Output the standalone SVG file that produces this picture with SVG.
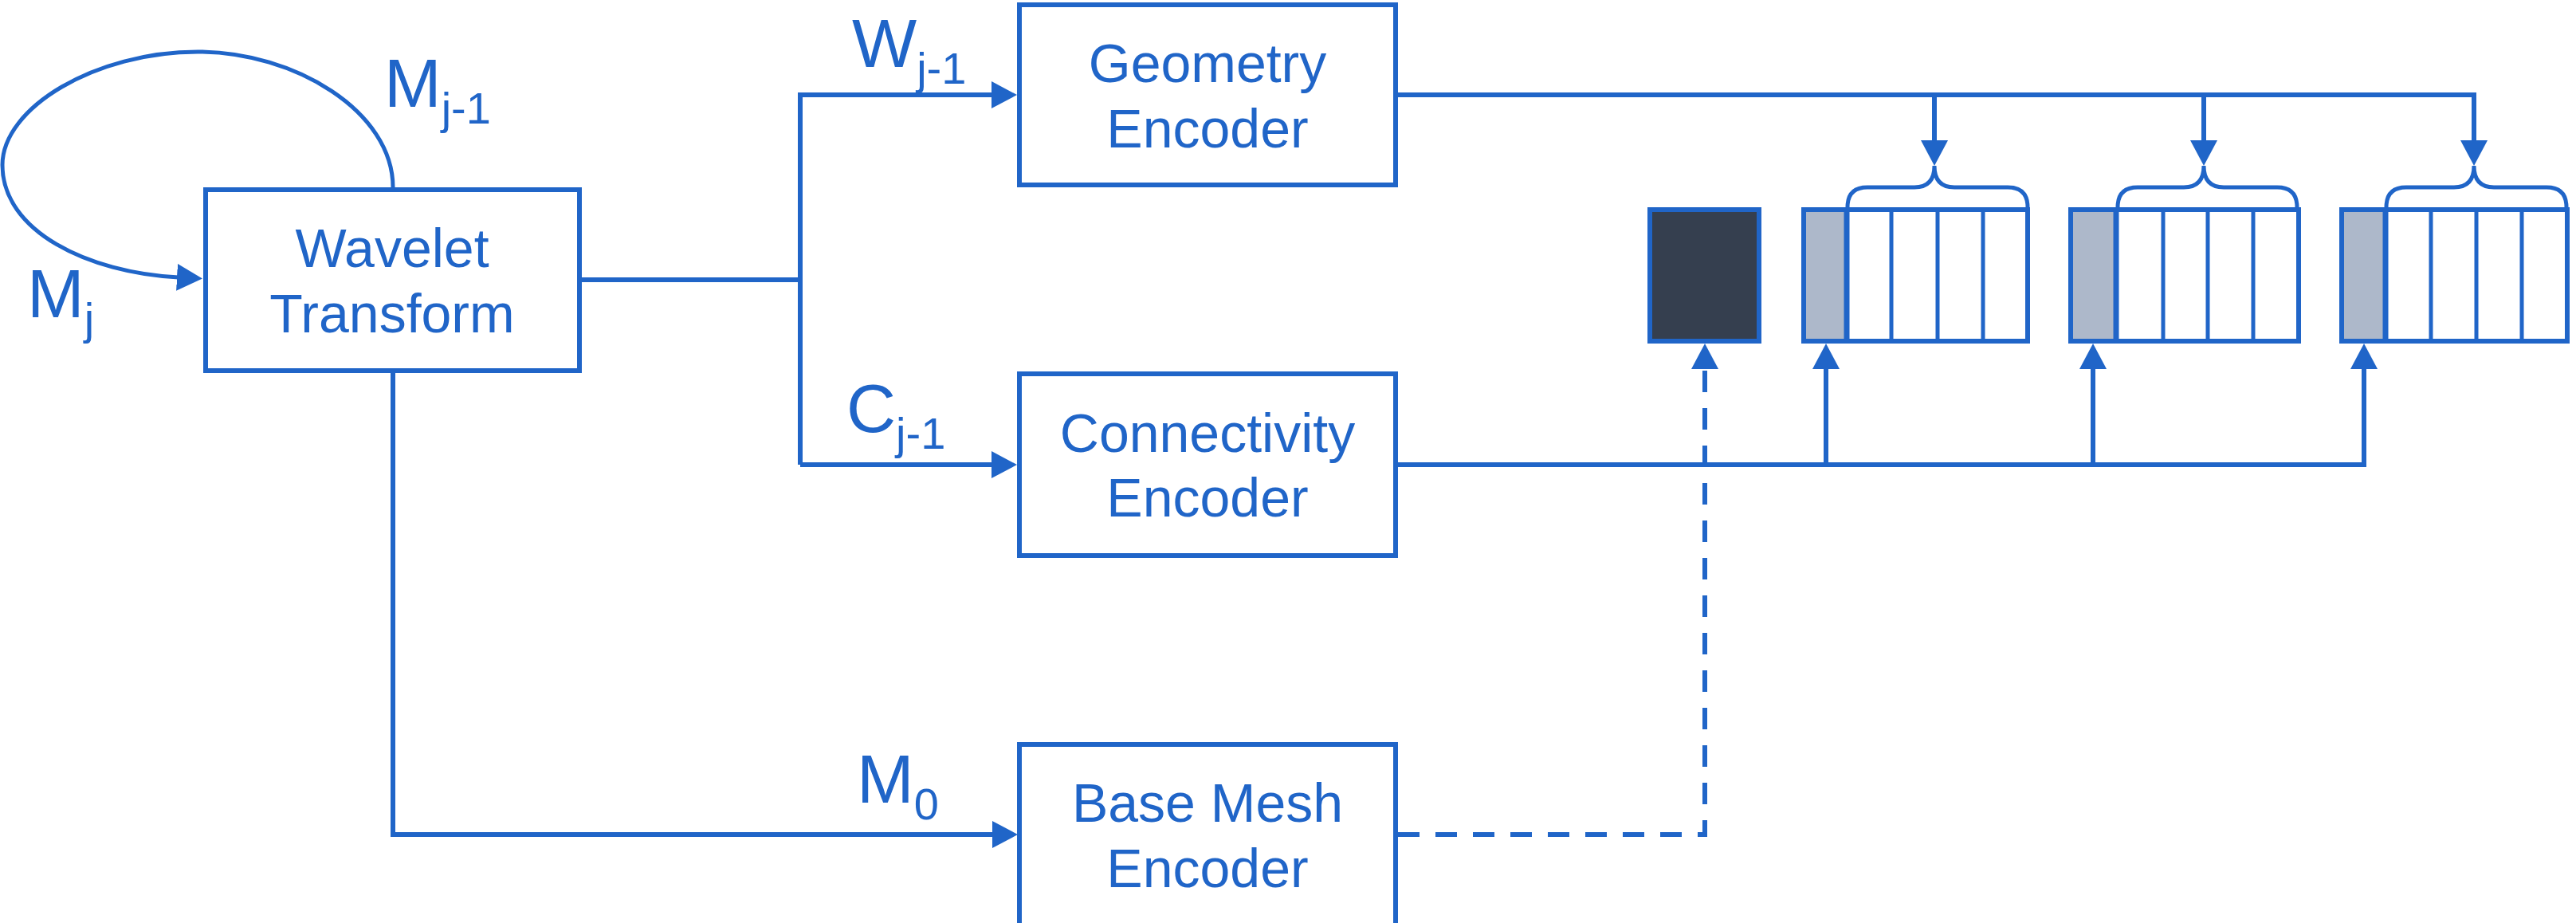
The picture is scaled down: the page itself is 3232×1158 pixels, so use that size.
<svg xmlns="http://www.w3.org/2000/svg" width="3232" height="1158" viewBox="0 0 3232 1158">
  <style>
    .box { fill: #ffffff; stroke: #2065C8; stroke-width: 6; }
    .ln { fill: none; stroke: #2065C8; stroke-width: 6; }
    .thin { fill: none; stroke: #2065C8; stroke-width: 5; }
    .dash { fill: none; stroke: #2065C8; stroke-width: 6; stroke-dasharray: 27 20; }
    .cell { stroke: #2065C8; stroke-width: 5; }
    .sep { stroke: #2065C8; stroke-width: 7; }
    .gray { fill: #ADB8CA; stroke: none; }
    .dark { fill: #353F4F; stroke: #2065C8; stroke-width: 6; }
    .lbl { font-family: "Liberation Sans", Arial, sans-serif; font-size: 68px; fill: #2065C8; text-anchor: middle; }
    .sym { font-family: "Liberation Sans", Arial, sans-serif; font-size: 86px; fill: #2065C8; }
    .sub { font-size: 56px; }
  </style>
  <defs>
    <marker id="arrow" markerUnits="userSpaceOnUse" markerWidth="32" markerHeight="34" viewBox="0 0 32 34" refX="2" refY="17" orient="auto">
      <path d="M0,0 L32,17 L0,34 z" fill="#2065C8"/>
    </marker>
  </defs>

  <!-- connectors -->
  <g id="connectors">
    <!-- self loop on the wavelet transform -->
    <path class="thin" d="M493 235 C493 140 370 65 248 65 C120 65 3 135 3 207 C3 290 110 342 224 348" marker-end="url(#arrow)"/>
    <!-- wavelet transform to the two encoders -->
    <path class="ln" d="M730 351 H1004"/>
    <path class="ln" d="M1004 583 V119 H1246" marker-end="url(#arrow)"/>
    <path class="ln" d="M1004 583 H1246" marker-end="url(#arrow)"/>
    <!-- base mesh branch -->
    <path class="ln" d="M493 468 V1047 H1247" marker-end="url(#arrow)"/>
    <!-- geometry encoder output, fed down to each packet -->
    <path class="ln" d="M1754 119 H3104 V178" marker-end="url(#arrow)"/>
    <path class="ln" d="M2427 119 V178" marker-end="url(#arrow)"/>
    <path class="ln" d="M2765 119 V178" marker-end="url(#arrow)"/>
    <!-- connectivity encoder output, fed up to each header cell -->
    <path class="ln" d="M1754 583 H2966 V461" marker-end="url(#arrow)"/>
    <path class="ln" d="M2291 583 V461" marker-end="url(#arrow)"/>
    <path class="ln" d="M2626 583 V461" marker-end="url(#arrow)"/>
    <!-- base mesh output -->
    <path class="dash" d="M1754 1047 H2139 V461" marker-end="url(#arrow)"/>
    <!-- braces over the payload cells -->
    <path class="thin" d="M2318 260 Q2318 235 2343 235 H2402 Q2427 235 2427 208 Q2427 235 2452 235 H2519 Q2544 235 2544 260"/>
    <path class="thin" d="M2657 260 Q2657 235 2682 235 H2740 Q2765 235 2765 208 Q2765 235 2790 235 H2857 Q2882 235 2882 260"/>
    <path class="thin" d="M2994 260 Q2994 235 3019 235 H3079 Q3104 235 3104 208 Q3104 235 3129 235 H3195 Q3220 235 3220 260"/>
  </g>

  <!-- labels on connectors -->
  <g id="labels">
    <text class="sym" x="482" y="134">M<tspan class="sub" dy="21">j-1</tspan></text>
    <text class="sym" x="34" y="398">M<tspan class="sub" dy="21">j</tspan></text>
    <text class="sym" x="1069" y="84">W<tspan class="sub" dy="21">j-1</tspan></text>
    <text class="sym" x="1062" y="542">C<tspan class="sub" dy="21">j-1</tspan></text>
    <text class="sym" x="1075" y="1007">M<tspan class="sub" dy="21">0</tspan></text>
  </g>

  <g id="wavelet-transform">
    <rect class="box" x="258" y="238" width="469" height="227"/>
    <text class="lbl" x="492" y="335">Wavelet</text>
    <text class="lbl" x="492" y="417">Transform</text>
  </g>

  <g id="geometry-encoder">
    <rect class="box" x="1279" y="6" width="472" height="226"/>
    <text class="lbl" x="1515" y="103">Geometry</text>
    <text class="lbl" x="1515" y="185">Encoder</text>
  </g>

  <g id="connectivity-encoder">
    <rect class="box" x="1279" y="469" width="472" height="228"/>
    <text class="lbl" x="1515" y="567">Connectivity</text>
    <text class="lbl" x="1515" y="648">Encoder</text>
  </g>

  <g id="base-mesh-encoder">
    <rect class="box" x="1279" y="934" width="472" height="228"/>
    <text class="lbl" x="1515" y="1031">Base Mesh</text>
    <text class="lbl" x="1515" y="1113">Encoder</text>
  </g>

  <g id="base-mesh-block">
    <rect class="dark" x="2070" y="263" width="137" height="165"/>
  </g>

  <g id="packet-1">
    <rect class="box" x="2263" y="263" width="281" height="165"/>
    <rect class="gray" x="2266" y="266" width="51" height="159"/>
    <line class="sep" x1="2317" y1="263" x2="2317" y2="428"/>
    <line class="cell" x1="2373" y1="263" x2="2373" y2="428"/>
    <line class="cell" x1="2431" y1="263" x2="2431" y2="428"/>
    <line class="cell" x1="2488" y1="263" x2="2488" y2="428"/>
  </g>

  <g id="packet-2">
    <rect class="box" x="2598" y="263" width="286" height="165"/>
    <rect class="gray" x="2601" y="266" width="54" height="159"/>
    <line class="sep" x1="2655" y1="263" x2="2655" y2="428"/>
    <line class="cell" x1="2714" y1="263" x2="2714" y2="428"/>
    <line class="cell" x1="2770" y1="263" x2="2770" y2="428"/>
    <line class="cell" x1="2827" y1="263" x2="2827" y2="428"/>
  </g>

  <g id="packet-3">
    <rect class="box" x="2938" y="263" width="283" height="165"/>
    <rect class="gray" x="2941" y="266" width="52" height="159"/>
    <line class="sep" x1="2993" y1="263" x2="2993" y2="428"/>
    <line class="cell" x1="3050" y1="263" x2="3050" y2="428"/>
    <line class="cell" x1="3107" y1="263" x2="3107" y2="428"/>
    <line class="cell" x1="3164" y1="263" x2="3164" y2="428"/>
  </g>
</svg>
